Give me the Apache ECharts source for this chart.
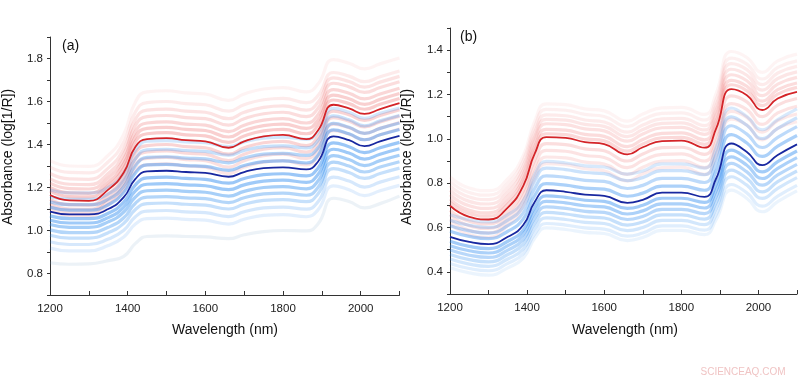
<!DOCTYPE html>
<html>
<head>
<meta charset="utf-8">
<script src="https://cdn.jsdelivr.net/npm/echarts@6/dist/echarts.min.js"></script>
<style>
html,body{margin:0;padding:0;background:#fff;}
#chart{width:800px;height:381px;}
</style>
</head>
<body>
<div id="chart"></div>
<script>
// Wavelengths (nm) at which spectra are sampled
const wavelengths = [1200,1250,1300,1350,1390,1420,1450,1500,1550,1600,1660,1700,1750,1800,1860,1890,1930,1970,2010,2050,2100];

// Tick labels
const xTickLabels = [1200,1400,1600,1800,2000];
const yTickLabelsA = [0.8,1.0,1.2,1.4,1.6,1.8];
const yTickLabelsB = [0.4,0.6,0.8,1.0,1.2,1.4];

// Panel (a) mean spectra
const redMeanA  = [1.165,1.140,1.138,1.190,1.270,1.390,1.425,1.430,1.420,1.415,1.385,1.415,1.438,1.445,1.425,1.465,1.585,1.568,1.542,1.565,1.592];
const blueMeanA = [1.088,1.075,1.075,1.100,1.155,1.240,1.275,1.278,1.272,1.268,1.250,1.272,1.290,1.294,1.284,1.320,1.438,1.420,1.392,1.415,1.440];

// Panel (a) individual spectra, red group
const redLinesA = [
 [1.325,1.300,1.298,1.350,1.448,1.598,1.645,1.650,1.640,1.635,1.605,1.635,1.658,1.665,1.645,1.681,1.795,1.778,1.752,1.775,1.802],
 [1.295,1.270,1.268,1.320,1.412,1.552,1.595,1.600,1.590,1.585,1.555,1.585,1.608,1.615,1.595,1.627,1.735,1.718,1.692,1.715,1.742],
 [1.265,1.240,1.238,1.290,1.380,1.518,1.560,1.565,1.555,1.550,1.520,1.550,1.573,1.580,1.560,1.596,1.710,1.693,1.667,1.690,1.717],
 [1.240,1.215,1.213,1.265,1.354,1.489,1.530,1.535,1.525,1.520,1.490,1.520,1.543,1.550,1.530,1.568,1.685,1.668,1.642,1.665,1.692],
 [1.220,1.195,1.193,1.245,1.331,1.461,1.500,1.505,1.495,1.490,1.460,1.490,1.513,1.520,1.500,1.538,1.655,1.638,1.612,1.635,1.662],
 [1.200,1.175,1.173,1.225,1.310,1.437,1.475,1.480,1.470,1.465,1.435,1.465,1.488,1.495,1.475,1.513,1.630,1.613,1.587,1.610,1.637],
 [1.183,1.158,1.156,1.208,1.290,1.414,1.450,1.455,1.445,1.440,1.410,1.440,1.463,1.470,1.450,1.489,1.607,1.590,1.564,1.587,1.614],
 [1.145,1.120,1.118,1.170,1.247,1.362,1.395,1.400,1.390,1.385,1.355,1.385,1.408,1.415,1.395,1.435,1.555,1.538,1.512,1.535,1.562],
 [1.125,1.100,1.098,1.150,1.224,1.334,1.365,1.370,1.360,1.355,1.325,1.355,1.378,1.385,1.365,1.405,1.525,1.508,1.482,1.505,1.532],
 [1.110,1.085,1.083,1.135,1.204,1.307,1.335,1.340,1.330,1.325,1.295,1.325,1.348,1.355,1.335,1.375,1.495,1.478,1.452,1.475,1.502],
 [1.095,1.070,1.068,1.120,1.185,1.280,1.305,1.310,1.300,1.295,1.265,1.295,1.318,1.325,1.305,1.345,1.465,1.448,1.422,1.445,1.472]
];

// Panel (a) individual spectra, blue group
const blueLinesA = [
 [1.188,1.175,1.175,1.200,1.267,1.372,1.415,1.418,1.412,1.408,1.390,1.412,1.430,1.434,1.424,1.456,1.568,1.550,1.522,1.545,1.570],
 [1.158,1.145,1.145,1.170,1.234,1.334,1.375,1.378,1.372,1.368,1.350,1.372,1.390,1.394,1.384,1.418,1.533,1.515,1.487,1.510,1.535],
 [1.133,1.120,1.120,1.145,1.206,1.301,1.340,1.343,1.337,1.333,1.315,1.337,1.355,1.359,1.349,1.383,1.498,1.480,1.452,1.475,1.500],
 [1.108,1.095,1.095,1.120,1.178,1.268,1.305,1.308,1.302,1.298,1.280,1.302,1.320,1.324,1.314,1.350,1.468,1.450,1.422,1.445,1.470],
 [1.068,1.055,1.055,1.080,1.132,1.212,1.245,1.248,1.242,1.238,1.220,1.242,1.260,1.264,1.254,1.290,1.408,1.390,1.362,1.385,1.410],
 [1.048,1.035,1.035,1.060,1.109,1.184,1.215,1.218,1.212,1.208,1.190,1.212,1.230,1.234,1.224,1.260,1.378,1.360,1.332,1.355,1.380],
 [1.028,1.015,1.015,1.040,1.086,1.156,1.185,1.188,1.182,1.178,1.160,1.182,1.200,1.204,1.194,1.230,1.348,1.330,1.302,1.325,1.350],
 [1.003,0.990,0.990,1.015,1.059,1.127,1.155,1.158,1.152,1.148,1.130,1.152,1.170,1.174,1.164,1.200,1.318,1.300,1.272,1.295,1.320],
 [0.978,0.965,0.965,0.990,1.033,1.098,1.125,1.128,1.122,1.118,1.100,1.122,1.140,1.144,1.134,1.170,1.288,1.270,1.242,1.265,1.290],
 [0.948,0.935,0.935,0.960,1.001,1.064,1.090,1.093,1.087,1.083,1.065,1.087,1.105,1.109,1.099,1.133,1.248,1.230,1.202,1.225,1.250],
 [0.918,0.905,0.905,0.930,0.970,1.030,1.055,1.058,1.052,1.048,1.030,1.052,1.070,1.074,1.064,1.096,1.208,1.190,1.162,1.185,1.210],
 [0.850,0.843,0.845,0.860,0.880,0.940,0.972,0.975,0.972,0.970,0.962,0.980,0.995,1.000,0.998,1.030,1.150,1.135,1.105,1.125,1.160]
];

// Panel (b) mean spectra
const redMeanB  = [0.698,0.648,0.636,0.690,0.788,0.934,1.008,1.004,0.985,0.976,0.930,0.962,0.990,0.992,0.960,1.045,1.224,1.197,1.130,1.182,1.212];
const blueMeanB = [0.558,0.535,0.525,0.558,0.611,0.716,0.768,0.761,0.748,0.743,0.711,0.725,0.757,0.757,0.738,0.820,0.979,0.941,0.881,0.927,0.975];

// Panel (b) individual spectra, red group
const redLinesB = [
 [0.828,0.778,0.766,0.820,0.924,1.080,1.158,1.154,1.135,1.126,1.080,1.112,1.140,1.142,1.110,1.203,1.394,1.367,1.300,1.352,1.382],
 [0.808,0.758,0.746,0.800,0.903,1.056,1.133,1.129,1.110,1.101,1.055,1.087,1.115,1.117,1.085,1.176,1.364,1.337,1.270,1.322,1.352],
 [0.788,0.738,0.726,0.780,0.881,1.032,1.108,1.104,1.085,1.076,1.030,1.062,1.090,1.092,1.060,1.151,1.339,1.312,1.245,1.297,1.327],
 [0.768,0.718,0.706,0.760,0.861,1.012,1.088,1.084,1.065,1.056,1.010,1.042,1.070,1.072,1.040,1.129,1.314,1.287,1.220,1.272,1.302],
 [0.748,0.698,0.686,0.740,0.841,0.992,1.068,1.064,1.045,1.036,0.990,1.022,1.050,1.052,1.020,1.107,1.289,1.262,1.195,1.247,1.277],
 [0.728,0.678,0.666,0.720,0.820,0.968,1.043,1.039,1.020,1.011,0.965,0.997,1.025,1.027,0.995,1.082,1.264,1.237,1.170,1.222,1.252],
 [0.713,0.663,0.651,0.705,0.803,0.949,1.023,1.019,1.000,0.991,0.945,0.977,1.005,1.007,0.975,1.062,1.244,1.217,1.150,1.202,1.232],
 [0.678,0.628,0.616,0.670,0.765,0.906,0.978,0.974,0.955,0.946,0.900,0.932,0.960,0.962,0.930,1.015,1.194,1.167,1.100,1.152,1.182],
 [0.658,0.608,0.596,0.650,0.742,0.878,0.948,0.944,0.925,0.916,0.870,0.902,0.930,0.932,0.900,0.983,1.159,1.132,1.065,1.117,1.147],
 [0.638,0.588,0.576,0.630,0.719,0.850,0.918,0.914,0.895,0.886,0.840,0.872,0.900,0.902,0.870,0.951,1.124,1.097,1.030,1.082,1.112],
 [0.618,0.568,0.556,0.610,0.696,0.822,0.888,0.884,0.865,0.856,0.810,0.842,0.870,0.872,0.840,0.919,1.089,1.062,0.995,1.047,1.077]
];

// Panel (b) individual spectra, blue group
const blueLinesB = [
 [0.658,0.635,0.625,0.658,0.720,0.840,0.898,0.891,0.878,0.873,0.841,0.855,0.887,0.887,0.868,0.962,1.139,1.101,1.041,1.087,1.135],
 [0.633,0.610,0.600,0.633,0.694,0.811,0.868,0.861,0.848,0.843,0.811,0.825,0.857,0.857,0.838,0.928,1.099,1.061,1.001,1.047,1.095],
 [0.608,0.585,0.575,0.608,0.666,0.778,0.833,0.826,0.813,0.808,0.776,0.790,0.822,0.822,0.803,0.891,1.059,1.021,0.961,1.007,1.055],
 [0.583,0.560,0.550,0.583,0.638,0.745,0.798,0.791,0.778,0.773,0.741,0.755,0.787,0.787,0.768,0.854,1.019,0.981,0.921,0.967,1.015],
 [0.538,0.515,0.505,0.538,0.589,0.692,0.743,0.736,0.723,0.718,0.686,0.700,0.732,0.732,0.713,0.793,0.949,0.911,0.851,0.897,0.945],
 [0.518,0.495,0.485,0.518,0.568,0.668,0.718,0.711,0.698,0.693,0.661,0.675,0.707,0.707,0.688,0.766,0.919,0.881,0.821,0.867,0.915],
 [0.498,0.475,0.465,0.498,0.546,0.644,0.693,0.686,0.673,0.668,0.636,0.650,0.682,0.682,0.663,0.739,0.889,0.851,0.791,0.837,0.885],
 [0.478,0.455,0.445,0.478,0.525,0.620,0.668,0.661,0.648,0.643,0.611,0.625,0.657,0.657,0.638,0.712,0.859,0.821,0.761,0.807,0.855],
 [0.458,0.435,0.425,0.458,0.503,0.596,0.643,0.636,0.623,0.618,0.586,0.600,0.632,0.632,0.613,0.685,0.829,0.791,0.731,0.777,0.825],
 [0.438,0.415,0.405,0.438,0.482,0.572,0.618,0.611,0.598,0.593,0.561,0.575,0.607,0.607,0.588,0.656,0.794,0.756,0.696,0.742,0.790],
 [0.418,0.395,0.385,0.418,0.462,0.552,0.598,0.591,0.578,0.573,0.541,0.555,0.587,0.587,0.568,0.634,0.769,0.731,0.671,0.717,0.765]
];

// ---- styling (not data) ----
const redAlphaA  = [0.08,0.13,0.18,0.22,0.26,0.30,0.32,0.28,0.24,0.20,0.17];
const blueAlphaA = [0.20,0.26,0.34,0.42,0.46,0.44,0.40,0.34,0.26,0.19,0.13,0.14];
const redAlphaB  = [0.07,0.10,0.13,0.17,0.20,0.23,0.25,0.22,0.19,0.16,0.13];
const blueAlphaB = [0.18,0.24,0.30,0.38,0.42,0.38,0.32,0.26,0.20,0.14,0.09];

function pts(vals){ return wavelengths.map((w,i)=>[w, vals[i]]); }

function faint(vals, color, alpha, idx){
  return {
    type:'line', xAxisIndex:idx, yAxisIndex:idx, data:pts(vals),
    smooth:0.5, symbol:'none', silent:true, animation:false,
    lineStyle:{color:color, opacity:alpha, width:3.2}
  };
}
function mean(vals, color, idx){
  return {
    type:'line', xAxisIndex:idx, yAxisIndex:idx, data:pts(vals),
    smooth:0.5, symbol:'none', silent:true, animation:false, z:5,
    lineStyle:{color:color, width:1.8}
  };
}

const series = [];
redLinesA.forEach((l,i)=>series.push(faint(l,'rgb(236,100,100)',redAlphaA[i],0)));
blueLinesA.forEach((l,i)=>series.push(faint(l, i===11?'rgb(120,160,200)':'rgb(36,134,238)', blueAlphaA[i],0)));
series.push(mean(redMeanA,'rgb(212,36,40)',0));
series.push(mean(blueMeanA,'rgb(24,40,160)',0));
redLinesB.forEach((l,i)=>series.push(faint(l,'rgb(238,104,104)',redAlphaB[i],1)));
blueLinesB.forEach((l,i)=>series.push(faint(l,'rgb(36,134,238)',blueAlphaB[i],1)));
series.push(mean(redMeanB,'rgb(212,36,40)',1));
series.push(mean(blueMeanB,'rgb(24,40,160)',1));

const axisTextStyle = {color:'#222', fontSize:11.5, fontFamily:'Liberation Sans, Arial, sans-serif'};

function xAxis(idx){
  return {
    type:'value', gridIndex:idx, min:1200, max:2100, interval:100,
    axisLine:{show:true, onZero:false, lineStyle:{color:'#333', width:1}},
    axisTick:{show:true, inside:true, length:4, lineStyle:{color:'#333'}},
    splitLine:{show:false},
    axisLabel:Object.assign({margin:8, showMaxLabel:true, formatter:v=>xTickLabels.indexOf(Math.round(v))>=0?String(Math.round(v)):''}, axisTextStyle)
  };
}
function yAxis(idx, mn, mx, labels){
  return {
    type:'value', gridIndex:idx, min:mn, max:mx, interval:0.1,
    axisLine:{show:true, onZero:false, lineStyle:{color:'#333', width:1}},
    axisTick:{show:true, inside:false, length:3, lineStyle:{color:'#333'}},
    splitLine:{show:false},
    axisLabel:Object.assign({margin:7, formatter:v=>{
      const r = Math.round(v*10)/10;
      return labels.some(t=>Math.abs(t-r)<1e-6) ? r.toFixed(1) : '';
    }}, axisTextStyle)
  };
}

const titleFont = '14px "Liberation Sans", Arial, sans-serif';
const chart = echarts.init(document.getElementById('chart'), null, {renderer:'canvas'});
chart.setOption({
  backgroundColor:'#fff',
  animation:false,
  grid:[
    {left:50, top:37, width:349.5, height:258},
    {left:450, top:28, width:349.5, height:266}
  ],
  xAxis:[xAxis(0), xAxis(1)],
  yAxis:[yAxis(0,0.7,1.9,yTickLabelsA), yAxis(1,0.3,1.5,yTickLabelsB)],
  series:series,
  graphic:[
    {type:'text', left:62, top:39, style:{text:'(a)', font:titleFont, fill:'#111'}},
    {type:'text', left:460, top:30, style:{text:'(b)', font:titleFont, fill:'#111'}},
    {type:'text', x:8, y:157, rotation:Math.PI/2, style:{text:'Absorbance (log[1/R])', font:titleFont, fill:'#111', align:'center', verticalAlign:'middle'}},
    {type:'text', x:407, y:157, rotation:Math.PI/2, style:{text:'Absorbance (log[1/R])', font:titleFont, fill:'#111', align:'center', verticalAlign:'middle'}},
    {type:'text', x:225, y:330, style:{text:'Wavelength (nm)', font:titleFont, fill:'#111', align:'center', verticalAlign:'middle'}},
    {type:'text', x:625, y:330, style:{text:'Wavelength (nm)', font:titleFont, fill:'#111', align:'center', verticalAlign:'middle'}},
    {type:'text', x:743, y:372, style:{text:'SCIENCEAQ.COM', font:'10px "Liberation Sans", Arial, sans-serif', fill:'#f0c4c4', align:'center', verticalAlign:'middle'}}
  ]
});
</script>
</body>
</html>
